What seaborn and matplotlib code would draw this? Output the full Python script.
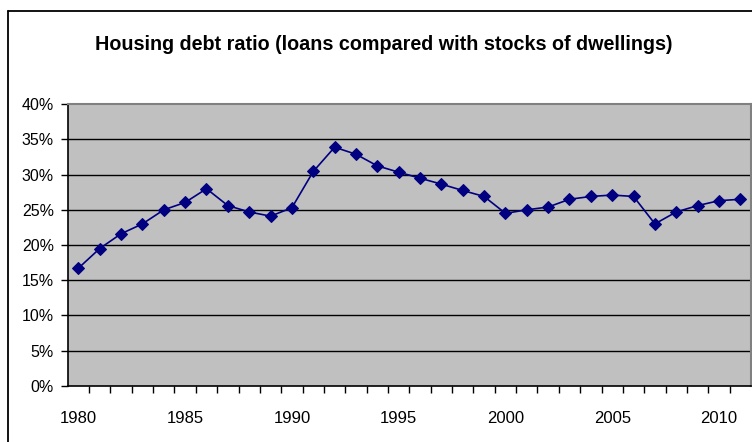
import matplotlib
matplotlib.use("Agg")
import matplotlib.pyplot as plt
import seaborn as sns
import pandas as pd
import numpy as np
from matplotlib.ticker import FixedLocator, FuncFormatter
from matplotlib.lines import Line2D
from matplotlib import font_manager

years = list(range(1980, 2012))
debt_ratio = [16.7, 19.5, 21.6, 23.0, 25.0, 26.05, 28.0, 25.6, 24.7, 24.1,
              25.3, 30.45, 33.9, 32.9, 31.25, 30.35, 29.5, 28.65, 27.75, 26.9,
              24.5, 25.0, 25.4, 26.5, 26.9, 27.1, 26.9, 23.0, 24.7, 25.6,
              26.3, 26.5]
year_labels = [1980, 1985, 1990, 1995, 2000, 2005, 2010]
y_ticks = [0, 5, 10, 15, 20, 25, 30, 35, 40]
title = "Housing debt ratio (loans compared with stocks of dwellings)"

df = pd.DataFrame({"year": years, "ratio": debt_ratio})

sns.set_theme(style="white")
plt.rcParams["font.family"] = ["Liberation Sans", "DejaVu Sans"]

W, H = 752, 442
fig = plt.figure(figsize=(W / 100, H / 100), dpi=100)
fig.patch.set_facecolor("white")

left, right, bottom_px, top_px = 67.7, 751.0, 385.7, 104.3
ax = fig.add_axes([left / W, (H - bottom_px) / H, (right - left) / W, (bottom_px - top_px) / H])
ax.set_facecolor("#C0C0C0")

# outer chart frame (left and top edges visible)
fig.add_artist(Line2D([7.5 / W, 7.5 / W], [0, 1 - 10.5 / H], transform=fig.transFigure, color="black", lw=1.3))
fig.add_artist(Line2D([7.5 / W, 1.0], [1 - 10.5 / H, 1 - 10.5 / H], transform=fig.transFigure, color="black", lw=1.3))

for yv in y_ticks[1:-1]:
    ax.axhline(yv, color="black", lw=1.0, zorder=1)

sns.lineplot(data=df, x="year", y="ratio", ax=ax, color="#000080", lw=1.2,
             marker="D", markersize=6.5, markeredgecolor="#000080",
             markerfacecolor="#000080", zorder=3)

ax.set_xlim(1979.5, 2011.5)
ax.set_ylim(0, 40)
ax.set_xlabel("")
ax.set_ylabel("")

ax.yaxis.set_major_locator(FixedLocator(y_ticks))
ax.yaxis.set_major_formatter(FuncFormatter(lambda v, p: f"{int(v)}%"))
ax.xaxis.set_major_locator(FixedLocator(year_labels))
ax.xaxis.set_major_formatter(FuncFormatter(lambda v, p: f"{int(v)}"))
ax.xaxis.set_minor_locator(FixedLocator([y + 0.5 for y in years[:-1]]))

ax.tick_params(axis="y", which="major", left=True, length=5, width=1, color="black",
               direction="out", labelsize=11.5, pad=5, labelcolor="black")
ax.tick_params(axis="x", which="major", bottom=False, length=0, labelsize=12, pad=18,
               labelcolor="black")
ax.tick_params(axis="x", which="minor", bottom=True, length=5, width=1, color="black",
               direction="out")

for s in ["left", "bottom"]:
    ax.spines[s].set_color("black")
    ax.spines[s].set_linewidth(1.2)
for s in ["top", "right"]:
    ax.spines[s].set_color("#808080")
    ax.spines[s].set_linewidth(1.5)

names = {f.name for f in font_manager.fontManager.ttflist}
tfam = "Liberation Sans Narrow" if "Liberation Sans Narrow" in names else "Liberation Sans"
t = fig.text(384 / W, 1 - 45 / H, title, ha="center", va="center", fontsize=16.5,
             fontweight="bold", family=[tfam, "DejaVu Sans"], color="black")
fig.canvas.draw()
wpx = t.get_window_extent(fig.canvas.get_renderer()).width
t.set_fontsize(16.5 * 575.0 / wpx)

fig.savefig("out.png", dpi=100)
